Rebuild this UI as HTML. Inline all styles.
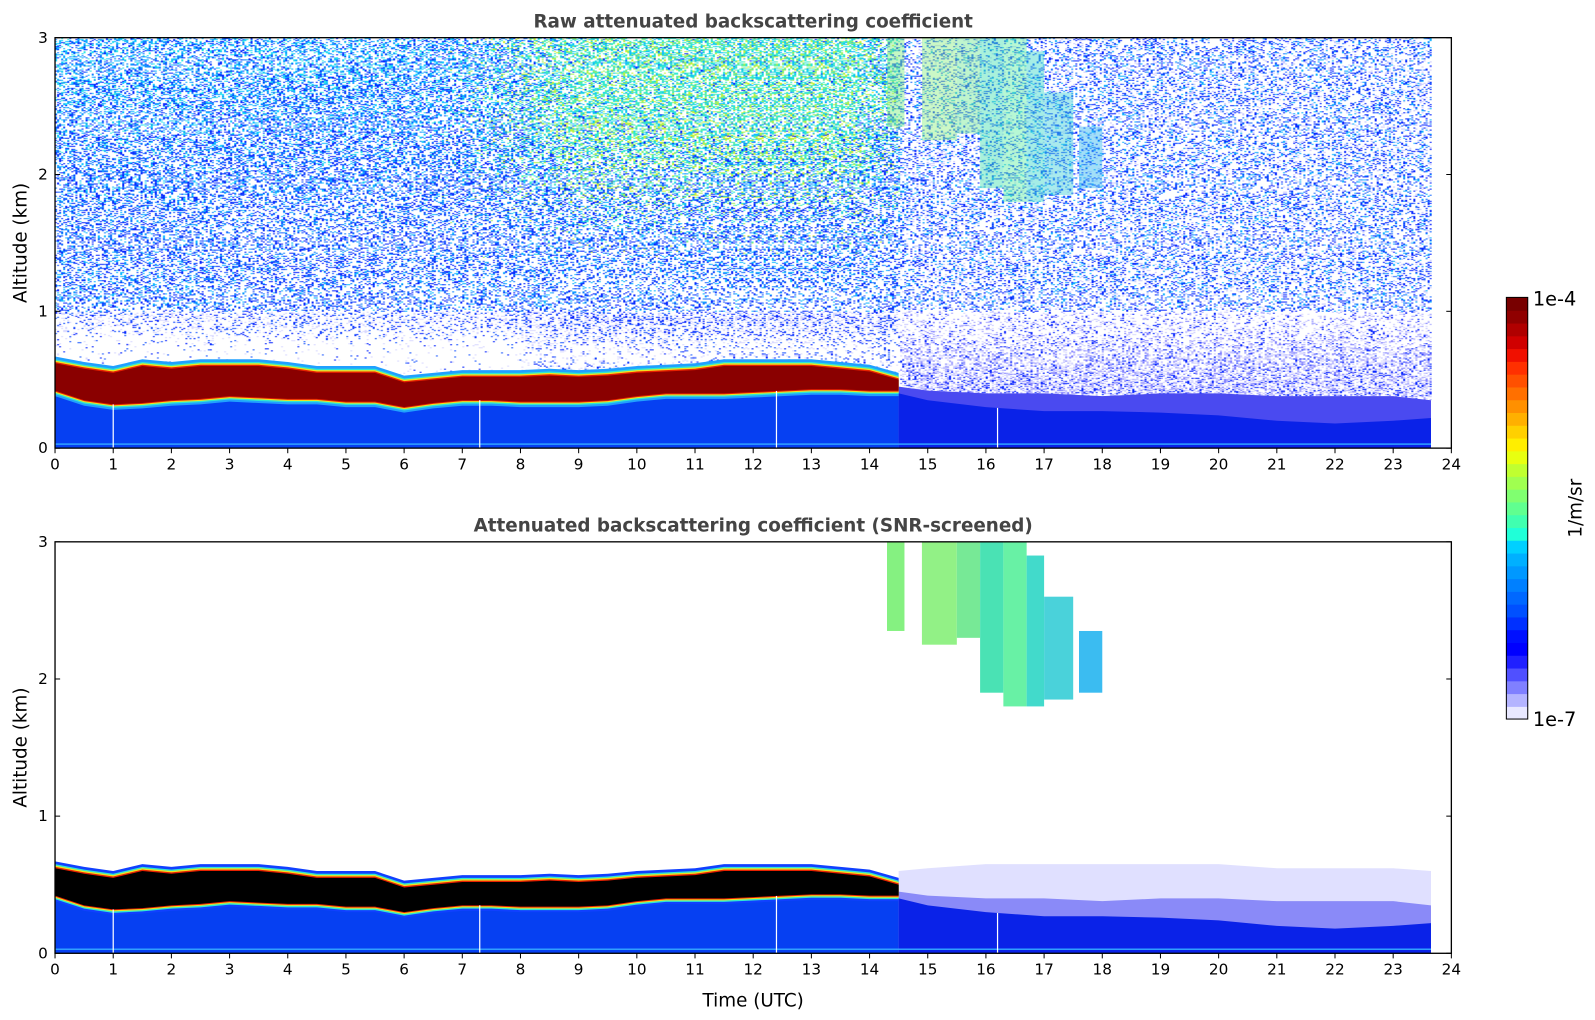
<!DOCTYPE html>
<html><head><meta charset="utf-8">
<style>
html,body{margin:0;padding:0;background:#fff;width:1595px;height:1020px;overflow:hidden}
#wrap{position:relative;width:1595px;height:1020px}
canvas{position:absolute}
svg{position:absolute;left:0;top:0}
text{font-family:"DejaVu Sans","Liberation Sans",sans-serif}
</style></head>
<body>
<div id="wrap">
<canvas id="noise" width="1371" height="403"></canvas>
<svg id="fig" width="1595" height="1020" viewBox="0 0 1566 1001.5"></svg>
</div>
<script>
// ---- data ----
const blHours = [0,0.5,1,1.5,2,2.5,3,3.5,4,4.5,5,5.5,6,6.5,7,7.5,8,8.5,9,9.5,10,10.5,11,11.5,12,12.5,13,13.5,14,14.5];
const blTop   = [0.62,0.58,0.55,0.6,0.58,0.6,0.6,0.6,0.58,0.55,0.55,0.55,0.48,0.5,0.52,0.52,0.52,0.53,0.52,0.53,0.55,0.56,0.57,0.6,0.6,0.6,0.6,0.58,0.56,0.5];
const blBot   = [0.42,0.35,0.32,0.33,0.35,0.36,0.38,0.37,0.36,0.36,0.34,0.34,0.3,0.33,0.35,0.35,0.34,0.34,0.34,0.35,0.38,0.4,0.4,0.4,0.41,0.42,0.43,0.43,0.42,0.42];
const afterHours = [14.5,15,16,17,18,19,20,21,22,23,23.65];
const denseTop   = [0.4,0.35,0.3,0.27,0.27,0.26,0.24,0.2,0.18,0.2,0.22];
const midTop     = [0.45,0.42,0.4,0.4,0.38,0.4,0.4,0.38,0.38,0.38,0.35];
const paleTop    = [0.6,0.62,0.65,0.65,0.65,0.65,0.65,0.62,0.62,0.62,0.6];
const cloudStart = [14.3,14.9,15.5,15.9,16.3,16.7,17.0,17.6];
const cloudEnd   = [14.6,15.5,15.9,16.3,16.7,17.0,17.5,18.0];
const cloudBase  = [2.35,2.25,2.3,1.9,1.8,1.8,1.85,1.9];
const cloudTop   = [3.0,3.0,3.0,3.0,3.0,2.9,2.6,2.35];
const cloudColor = ["#7ef07a","#8cf080","#70e890","#40e0b0","#60f0a0","#38d8c8","#40d0d8","#30b8f0"];
const gapHours = [1,7.3,12.4,16.2];
const xTicks = [0,1,2,3,4,5,6,7,8,9,10,11,12,13,14,15,16,17,18,19,20,21,22,23,24];
const yTicks = [0,1,2,3];
const cbColors = ["#e8e8ff","#b4b4ff","#8080ff","#5050ff","#2020ff","#0000ff","#0010ff","#0030ff","#0050ff","#0068ff","#0080ff","#0098ff","#00b0ff","#00d0ff","#20ffd8","#40ffb0","#60ff90","#80ff70","#a0ff50","#c0ff30","#e8ff10","#ffee00","#ffd000","#ffb000","#ff9000","#ff7000","#ff5000","#ff3000","#f01000","#d00000","#b00000","#900000","#780000"];
const cbLabels = ["1e-7","1e-4"];

// ---- axes ----
const X0=54, X1=1425;
const panels=[{y0:440,y3:37},{y0:936,y3:532}];
const xs = h => X0 + h*(X1-X0)/24;
const ys = (p,a) => panels[p].y0 - a*(panels[p].y0-panels[p].y3)/3;
const NS="http://www.w3.org/2000/svg";
const svg=document.getElementById('fig');
function mk(tag,attrs,parent){const e=document.createElementNS(NS,tag);for(const k in attrs)e.setAttribute(k,attrs[k]);(parent||svg).appendChild(e);return e;}
function interp(hs,vs,h){for(let i=0;i<hs.length-1;i++){if(h<=hs[i+1])return vs[i]+(vs[i+1]-vs[i])*(h-hs[i])/(hs[i+1]-hs[i]);}return vs[vs.length-1];}
function sm(e0,e1,x){let t=Math.min(1,Math.max(0,(x-e0)/(e1-e0)));return t*t*(3-2*t);}

// ---- noise canvas for raw panel (texture only) ----
const cv=document.getElementById('noise');
const S=1595/1566;
cv.style.left=(X0*S)+'px';cv.style.top=(37*S)+'px';
cv.style.width=((X1-X0)*S)+'px';cv.style.height=(403*S)+'px';
const ctx=cv.getContext('2d');
let seed=12345;function rnd(){seed=(seed*1103515245+12345)&0x7fffffff;return seed/0x7fffffff;}
const blue=["#0a28ff","#0a28ff","#1e5aff","#1080ff","#10b8ff"];
const cyan=["#1080ff","#10b8ff","#10d0ff","#30e8e0","#0a28ff"];
const green=["#10c0ff","#30e8d0","#60f0a0","#a0f060","#d0f030","#30e8d0"];
for(let px=0;px<1371;px+=2){
  const h=px/1371*24;
  if(h>23.65)continue;
  for(let py=0;py<403;py+=1){
    const a=3-py/403*3;
    let bt = h<14.5?interp(blHours,blTop,h):interp(afterHours,midTop,h);
    if(a<bt)continue;
    let p, cols;
    if(h<14.5){
      if(a<1.0){ p=0.03+0.28*sm(0.7,1.0,a); if(h>8) p+=0.12; cols=["#0a28ff","#1e5aff","#d8d8ff","#d8d8ff"]; }
      else {
        const w = sm(6.5,9.5,h)*sm(1.3,2.6,a)*(1-sm(13.5,15,h));
        p=0.3+0.12*sm(1,2.5,a)+0.15*w;
        if(rnd()<p){ cols = rnd()<w*0.85 ? green : (rnd()<sm(1.6,3,a)*0.7?cyan:blue); ctx.fillStyle=cols[Math.floor(rnd()*cols.length)];ctx.fillRect(px,py,2,1);}
        continue;
      }
    } else {
      if(a<1.0){ p=0.2+0.35*(1-sm(0.4,1.0,a)); cols=["#c8c8ff","#d8d8ff","#a8a8ff","#8080ff","#0a28ff"]; }
      else { p=0.3; cols=["#0a28ff","#0a28ff","#1e6eff","#10b0ff","#c8c8ff"]; }
    }
    if(rnd()<p){ctx.fillStyle=cols[Math.floor(rnd()*cols.length)];ctx.fillRect(px,py,2,1);}
  }
}

// ---- helpers for bands ----
function bandPoly(p,hs,lo,hi,off1,off2,fill,name){
  let pts=[];
  for(let i=0;i<hs.length;i++)pts.push(xs(hs[i]).toFixed(1)+','+ys(p,Math.min(3,hi[i]+off2)).toFixed(1));
  for(let i=hs.length-1;i>=0;i--)pts.push(xs(hs[i]).toFixed(1)+','+ys(p,Math.max(0,lo[i]-off1)).toFixed(1));
  const e=mk('polygon',{points:pts.join(' '),fill:fill});
  
  
}
const zeros=blHours.map(()=>0);
const zerosA=afterHours.map(()=>0);

for(let p=0;p<2;p++){
  bandPoly(p,blHours,zeros,blBot,0,0.02,'#0640f2','aerosol-layer-below-bl');
  if(p===1) bandPoly(p,afterHours,zerosA,paleTop,0,0,'#e0e0ff','pale-layer');
  bandPoly(p,afterHours,zerosA,midTop,0,0,p?'#8a8af8':'#4a4af0','mid-layer');
  bandPoly(p,afterHours,zerosA,denseTop,0,0,'#0a22e8','dense-layer');
  bandPoly(p,blHours,blBot,blTop,0.04,0.05,p?'#1040ff':'#20a0ff','bl-edge-outer');
  bandPoly(p,blHours,blBot,blTop,0.025,0.03,'#30e8d0','bl-edge-cyan');
  bandPoly(p,blHours,blBot,blTop,0.015,0.02,'#f0e020','bl-edge-yellow');
  bandPoly(p,blHours,blBot,blTop,0.007,0.01,'#e82000','bl-edge-red');
  bandPoly(p,blHours,blBot,blTop,0,0,p?'#000000':'#8a0000','bl-core');
  const gl=mk('rect',{x:xs(0),y:ys(p,0.035),width:xs(23.65)-xs(0),height:1.5,fill:'#30a0ff'});
  
  
  for(let i=0;i<cloudStart.length;i++){
    const r=mk('rect',{x:xs(cloudStart[i]),y:ys(p,cloudTop[i]),width:xs(cloudEnd[i])-xs(cloudStart[i]),height:ys(p,cloudBase[i])-ys(p,cloudTop[i]),fill:cloudColor[i],opacity:p?0.95:0.45});
    
    
  }
  for(const gh of gapHours){
    const top = gh<14.5?interp(blHours,blBot,gh):interp(afterHours,denseTop,gh);
    const l=mk('line',{x1:xs(gh),x2:xs(gh),y1:ys(p,0),y2:ys(p,top),stroke:'#fff','stroke-width':1.2});
    
    
  }
  const fr=mk('rect',{x:X0,y:panels[p].y3,width:X1-X0,height:panels[p].y0-panels[p].y3,fill:'none',stroke:'#000','stroke-width':1.3});
  
  
  for(const t of xTicks){
    mk('line',{x1:xs(t),x2:xs(t),y1:panels[p].y0,y2:panels[p].y0+5,stroke:'#000','stroke-width':1});
    const tx=mk('text',{x:xs(t),y:panels[p].y0+21,'text-anchor':'middle','font-size':15});
    tx.textContent=t;
    
    
  }
  for(const t of yTicks){
    mk('line',{x1:X0,x2:X0+5,y1:ys(p,t),y2:ys(p,t),stroke:'#000','stroke-width':1});
    mk('line',{x1:X1-5,x2:X1,y1:ys(p,t),y2:ys(p,t),stroke:'#000','stroke-width':1});
    const ty=mk('text',{x:X0-7,y:ys(p,t)+5,'text-anchor':'end','font-size':15});
    ty.textContent=t;
    
    
  }
  const yc=(panels[p].y0+panels[p].y3)/2;
  const yt=mk('text',{x:0,y:0,'text-anchor':'middle','font-size':18,transform:`translate(26,${yc}) rotate(-90)`});
  yt.textContent='Altitude (km)';
  
  
  const tt=mk('text',{x:(X0+X1)/2,y:panels[p].y3-10,'text-anchor':'middle','font-size':18,'font-weight':'bold',fill:'#444'});
  tt.textContent=p?'Attenuated backscattering coefficient (SNR-screened)':'Raw attenuated backscattering coefficient';
  
  
}
const xt=mk('text',{x:(X0+X1)/2,y:988,'text-anchor':'middle','font-size':18});
xt.textContent='Time (UTC)';



// ---- colorbar ----
const CB={x:1479,w:21,top:292,bot:706};
const n=cbColors.length, bh=(CB.bot-CB.top)/n;
for(let i=0;i<n;i++){
  const r=mk('rect',{x:CB.x,y:(CB.bot-(i+1)*bh).toFixed(2),width:CB.w,height:(bh+0.6).toFixed(2),fill:cbColors[i]});
  
  
}
const cf=mk('rect',{x:CB.x,y:CB.top,width:CB.w,height:CB.bot-CB.top,fill:'none',stroke:'#000','stroke-width':1});


const l1=mk('text',{x:1505,y:CB.bot+7,'font-size':19});l1.textContent=cbLabels[0];


const l2=mk('text',{x:1505,y:CB.top+8,'font-size':19});l2.textContent=cbLabels[1];


const cu=mk('text',{x:0,y:0,'text-anchor':'middle','font-size':18,transform:'translate(1553,499) rotate(-90)'});
cu.textContent='1/m/sr';


</script>
</body></html>
